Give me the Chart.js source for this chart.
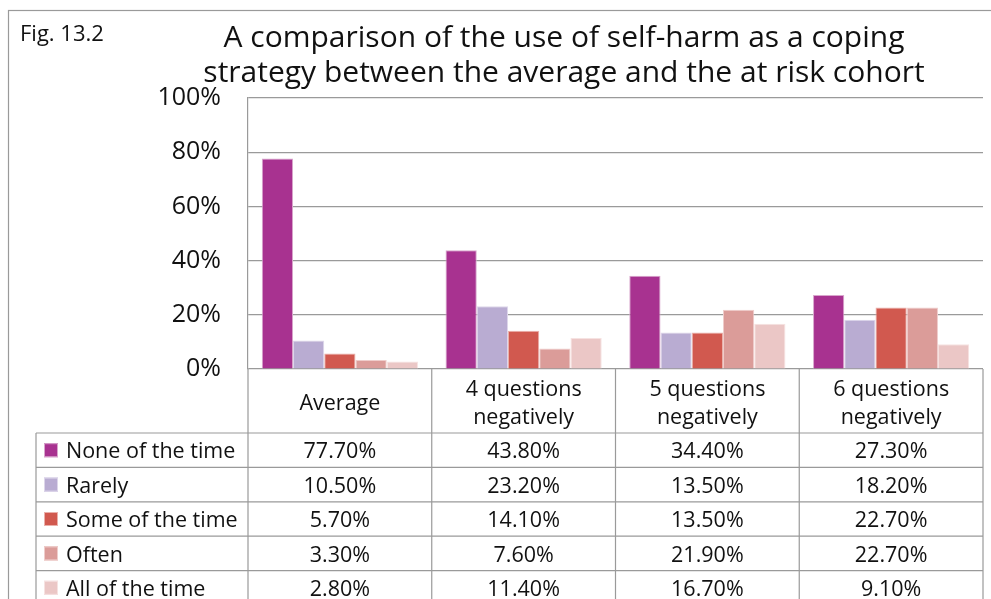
<!DOCTYPE html>
<html>
<head>
<meta charset="utf-8">
<title>Self-harm as a coping strategy</title>
<script src="https://cdn.jsdelivr.net/npm/chart.js@4"></script>
<style>
  html, body { margin: 0; padding: 0; background: #fff; }
  #wrap { width: 991px; height: 599px; position: relative; }
</style>
</head>
<body>
<div id="wrap"><canvas id="chart"></canvas></div>
<script>
const figLabel = "Fig. 13.2";
const titleLines = [
  "A comparison of the use of self-harm as a coping",
  "strategy between the average and the at risk cohort"
];
const categories = [
  ["Average"],
  ["4 questions", "negatively"],
  ["5 questions", "negatively"],
  ["6 questions", "negatively"]
];
const seriesNames = ["None of the time", "Rarely", "Some of the time", "Often", "All of the time"];
const noneOfTheTime = [77.7, 43.8, 34.4, 27.3];
const rarely = [10.5, 23.2, 13.5, 18.2];
const someOfTheTime = [5.7, 14.1, 13.5, 22.7];
const often = [3.3, 7.6, 21.9, 22.7];
const allOfTheTime = [2.8, 11.4, 16.7, 9.1];
const yTicks = [0, 20, 40, 60, 80, 100];

const seriesValues = [noneOfTheTime, rarely, someOfTheTime, often, allOfTheTime];
const fills = ["#a83290", "#b9acd2", "#d1594f", "#db9c99", "#ebc7c6"];
const edges = ["#d8a6cc", "#ddd6ea", "#eab0aa", "#efcdcb", "#f6e2e1"];

const FONT = "'Open Sans', sans-serif";
const LINE = "#9a9a9a";

// table under the plot, aligned to the category columns of the x scale
const tablePlugin = {
  id: "dataTable",
  afterDraw(chart) {
    const ctx = chart.ctx;
    const area = chart.chartArea;
    const x = chart.scales.x;
    const colW = x.getPixelForValue(1) - x.getPixelForValue(0);
    const left = area.left;
    const right = area.left + colW * categories.length;
    const headTop = area.bottom;
    const headBottom = headTop + 64;
    const rowH = 34.4;
    const legendLeft = 36;
    const rows = seriesNames.length;
    const tableBottom = headBottom + rowH * rows;

    ctx.save();

    // outer frame
    ctx.strokeStyle = LINE;
    ctx.lineWidth = 1.2;
    ctx.strokeRect(8.5, 10.5, 1000, 700);

    // figure label and title
    ctx.fillStyle = "#111";
    ctx.textBaseline = "alphabetic";
    ctx.textAlign = "left";
    ctx.font = "22px " + FONT;
    ctx.fillText(figLabel, 20, 41);
    ctx.textAlign = "center";
    ctx.font = "30px " + FONT;
    ctx.fillText(titleLines[0], 564, 47);
    ctx.fillText(titleLines[1], 564, 82);

    // grid of the table
    ctx.strokeStyle = LINE;
    ctx.lineWidth = 1.2;
    ctx.beginPath();
    for (let i = 0; i <= categories.length; i++) {
      const cx = left + colW * i;
      ctx.moveTo(cx, headTop);
      ctx.lineTo(cx, tableBottom);
    }
    ctx.moveTo(legendLeft, headBottom);
    ctx.lineTo(legendLeft, tableBottom);
    for (let r = 0; r <= rows; r++) {
      const ry = headBottom + rowH * r;
      ctx.moveTo(legendLeft, ry);
      ctx.lineTo(right, ry);
    }
    ctx.stroke();

    // header: category names
    ctx.textBaseline = "middle";
    ctx.fillStyle = "#111";
    ctx.font = "21.5px " + FONT;
    ctx.textAlign = "center";
    categories.forEach((lines, i) => {
      const cx = x.getPixelForValue(i);
      const mid = (headTop + headBottom) / 2 + 3;
      lines.forEach((t, k) => {
        ctx.fillText(t, cx, mid + (k - (lines.length - 1) / 2) * 28);
      });
    });

    // rows: legend key, series name and values
    seriesNames.forEach((name, r) => {
      const cy = headBottom + rowH * r + rowH / 2;
      ctx.fillStyle = fills[r];
      ctx.fillRect(44, cy - 7, 14, 14);
      ctx.strokeStyle = edges[r];
      ctx.lineWidth = 1;
      ctx.strokeRect(44.5, cy - 6.5, 13, 13);
      ctx.fillStyle = "#111";
      ctx.textAlign = "left";
      ctx.fillText(name, 66, cy + 2);
      ctx.textAlign = "center";
      seriesValues[r].forEach((v, i) => {
        ctx.fillText(v.toFixed(2) + "%", x.getPixelForValue(i), cy + 2);
      });
    });

    ctx.restore();
  }
};

new Chart(document.getElementById("chart"), {
  type: "bar",
  data: {
    labels: categories,
    datasets: seriesNames.map((name, i) => ({
      label: name,
      data: seriesValues[i],
      backgroundColor: fills[i],
      borderColor: edges[i],
      borderWidth: 1
    }))
  },
  options: {
    responsive: true,
    maintainAspectRatio: false,
    animation: false,
    layout: { padding: { top: 98, right: 8, bottom: 230, left: 0 } },
    datasets: { bar: { categoryPercentage: 0.85, barPercentage: 1.0 } },
    plugins: {
      legend: { display: false },
      title: { display: false },
      tooltip: { enabled: false }
    },
    scales: {
      x: { display: false },
      y: {
        min: 0,
        max: 100,
        afterBuildTicks(scale) {
          scale.ticks = yTicks.map(v => ({ value: v }));
        },
        afterFit(scale) { scale.width = 248; },
        border: { color: LINE, width: 1.2 },
        grid: { color: LINE, lineWidth: 1.2, drawTicks: false },
        ticks: {
          padding: 27,
          color: "#111",
          font: { family: FONT, size: 25 },
          callback: v => v + "%"
        }
      }
    }
  },
  plugins: [tablePlugin]
});
</script>
</body>
</html>
